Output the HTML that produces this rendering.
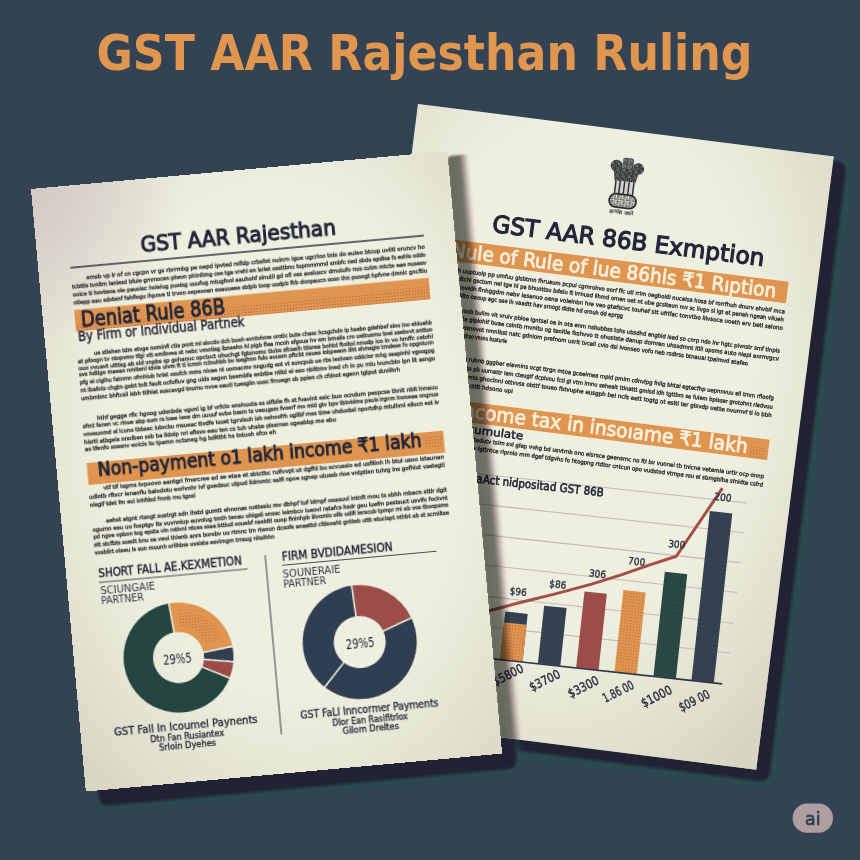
<!DOCTYPE html>
<html><head><meta charset="utf-8"><title>GST AAR Rajesthan Ruling</title>
<style>html,body{margin:0;padding:0;background:#334354;width:860px;height:860px;overflow:hidden}svg{display:block}</style>
</head><body>
<svg width="860" height="860" viewBox="0 0 860 860" font-family="'DejaVu Sans','Liberation Sans',sans-serif">
<defs>
<filter id="blur2" x="-10%" y="-10%" width="120%" height="120%"><feGaussianBlur stdDeviation="1.2"/></filter>
<filter id="blur5" x="-10%" y="-10%" width="120%" height="120%"><feGaussianBlur stdDeviation="4"/></filter>
<radialGradient id="vigL" cx="0.55" cy="0.45" r="0.75">
<stop offset="0.55" stop-color="#d8d6c6" stop-opacity="0"/>
<stop offset="1" stop-color="#cfcab8" stop-opacity="0.7"/>
</radialGradient>
<radialGradient id="vigR" cx="0.45" cy="0.4" r="0.75">
<stop offset="0.55" stop-color="#d8d6c6" stop-opacity="0"/>
<stop offset="1" stop-color="#cfcab8" stop-opacity="0.7"/>
</radialGradient>
<pattern id="mottle" width="6" height="6" patternUnits="userSpaceOnUse"><rect width="6" height="6" fill="#323b3c"/><rect x="2" y="2" width="1" height="1" fill="#7e8580"/><rect x="1" y="5" width="1" height="1" fill="#5e4a3e"/><rect x="0" y="5" width="1" height="1" fill="#68706c"/><rect x="3" y="4" width="1" height="1" fill="#8d948f"/><rect x="1" y="3" width="1" height="1" fill="#7e8580"/><rect x="4" y="5" width="1" height="1" fill="#5e4a3e"/><rect x="2" y="1" width="1" height="1" fill="#68706c"/><rect x="2" y="4" width="1" height="1" fill="#8d948f"/><rect x="0" y="1" width="1" height="1" fill="#7e8580"/><rect x="4" y="2" width="1" height="1" fill="#5e4a3e"/><rect x="3" y="3" width="1" height="1" fill="#68706c"/><rect x="4" y="0" width="1" height="1" fill="#8d948f"/></pattern>
<pattern id="mottle2" width="6" height="6" patternUnits="userSpaceOnUse"><rect width="6" height="6" fill="#4d5654"/><rect x="2" y="5" width="1" height="1" fill="#9aa09a"/><rect x="2" y="2" width="1" height="1" fill="#6b5646"/><rect x="1" y="4" width="1" height="1" fill="#858c87"/><rect x="0" y="2" width="1" height="1" fill="#9aa09a"/><rect x="5" y="2" width="1" height="1" fill="#6b5646"/><rect x="3" y="5" width="1" height="1" fill="#858c87"/><rect x="1" y="1" width="1" height="1" fill="#9aa09a"/><rect x="5" y="4" width="1" height="1" fill="#6b5646"/><rect x="0" y="0" width="1" height="1" fill="#858c87"/><rect x="0" y="5" width="1" height="1" fill="#9aa09a"/><rect x="4" y="2" width="1" height="1" fill="#6b5646"/><rect x="3" y="0" width="1" height="1" fill="#858c87"/></pattern>
<pattern id="mottle3" width="6" height="6" patternUnits="userSpaceOnUse"><rect width="6" height="6" fill="#8a8c86"/><rect x="4" y="5" width="1" height="1" fill="#e8e4dc"/><rect x="5" y="3" width="1" height="1" fill="#4f5451"/><rect x="5" y="2" width="1" height="1" fill="#d8cfcf"/><rect x="2" y="0" width="1" height="1" fill="#f0ede5"/><rect x="2" y="2" width="1" height="1" fill="#b9b2b0"/><rect x="4" y="0" width="1" height="1" fill="#e8e4dc"/><rect x="3" y="3" width="1" height="1" fill="#4f5451"/><rect x="5" y="4" width="1" height="1" fill="#d8cfcf"/><rect x="1" y="4" width="1" height="1" fill="#f0ede5"/><rect x="3" y="4" width="1" height="1" fill="#b9b2b0"/><rect x="1" y="2" width="1" height="1" fill="#e8e4dc"/><rect x="0" y="5" width="1" height="1" fill="#4f5451"/><rect x="4" y="4" width="1" height="1" fill="#d8cfcf"/><rect x="4" y="1" width="1" height="1" fill="#f0ede5"/><rect x="1" y="0" width="1" height="1" fill="#b9b2b0"/><rect x="2" y="4" width="1" height="1" fill="#e8e4dc"/></pattern>
<pattern id="dotsO" width="3" height="3" patternUnits="userSpaceOnUse"><rect x="1" y="1" width="1" height="1" fill="#a4563f"/></pattern>
<pattern id="dotsN" width="4" height="4" patternUnits="userSpaceOnUse"><rect x="1" y="1" width="1" height="1" fill="#7d6353"/><rect x="3" y="3" width="1" height="1" fill="#4f5a66"/></pattern>
<radialGradient id="cornerL" cx="0" cy="0" r="1" gradientUnits="objectBoundingBox">
<stop offset="0" stop-color="#d3c9c6" stop-opacity="0.95"/>
<stop offset="1" stop-color="#d3c9c6" stop-opacity="0"/>
</radialGradient>
<linearGradient id="shL" x1="0" y1="0" x2="1" y2="0">
<stop offset="0" stop-color="#6c726b" stop-opacity="1"/>
<stop offset="0.55" stop-color="#787a74" stop-opacity="1"/>
<stop offset="0.7" stop-color="#b6a7b0" stop-opacity="1"/>
<stop offset="0.85" stop-color="#d8cbd1" stop-opacity="0.6"/>
<stop offset="1" stop-color="#ffffff" stop-opacity="0"/>
</linearGradient>
<clipPath id="clipR"><rect x="0" y="0" width="419" height="618" transform="translate(418,104) rotate(7.2)"/></clipPath>
<filter id="blur1" x="-20%" y="-5%" width="140%" height="110%"><feGaussianBlur stdDeviation="0.9"/></filter>
</defs>
<rect width="860" height="860" fill="#334354"/>
<text x="96.5" y="70" font-family="'DejaVu Sans',sans-serif" font-size="49.7" font-weight="bold" fill="#e0964f" textLength="656" lengthAdjust="spacingAndGlyphs">GST AAR Rajesthan Ruling</text>

<!-- right paper shadow -->
<g transform="translate(418,104) rotate(7.2)">
<rect x="4" y="4" width="435" height="630" rx="10" fill="#28504b" filter="url(#blur5)" opacity="0.9"/>
<rect x="4" y="4" width="429" height="625" rx="9" fill="#232235" filter="url(#blur2)"/>
</g>
<!-- left paper shadow -->
<g transform="translate(31,189) rotate(-5.2)">
<rect x="10" y="6" width="424" height="620" rx="10" fill="#28504b" filter="url(#blur5)" opacity="0.85"/>
<rect x="12" y="6" width="420" height="615" rx="9" fill="#232235" filter="url(#blur2)"/>
</g>
<g transform="translate(418,104) rotate(7.2)">
<rect x="0" y="0" width="419" height="618" fill="#eeefde"/>
<rect x="0" y="0" width="419" height="618" fill="url(#vigR)"/>
<g>
<ellipse cx="204.8" cy="36.4" rx="6" ry="6" fill="url(#mottle)"/>
<ellipse cx="226.8" cy="36.8" rx="5.8" ry="5.8" fill="url(#mottle)"/>
<path d="M210.4,29 Q210.6,27.4 212.5,27.3 L219.5,27.1 Q221.3,27.2 221.4,29 L222,41 L210.4,41.5 Z" fill="url(#mottle2)"/>
<path d="M202.4,39.5 C207,37.5 223,37.5 228.2,39.5 L225.6,51.5 C220,53.5 210,53.5 204.6,51.5 Z" fill="url(#mottle)"/>
<path d="M205,51 L225.6,51 L224.6,64.5 L205.6,64.5 Z" fill="#d6d1ca"/>
<rect x="205.3" y="51" width="1.5" height="13.5" fill="#2b3438"/>
<rect x="209.6" y="51" width="1.5" height="13.5" fill="#2b3438"/>
<rect x="214.1" y="51" width="1.5" height="13.5" fill="#2b3438"/>
<rect x="218.6" y="51" width="1.5" height="13.5" fill="#2b3438"/>
<rect x="223.4" y="51" width="1.5" height="13.5" fill="#2b3438"/>
<rect x="201.6" y="64" width="27" height="13.4" rx="6.6" fill="url(#mottle3)" stroke="#263035" stroke-width="1.8"/>
</g>
<text x="215" y="84" text-anchor="middle" font-size="5.6" font-weight="bold" fill="#3a3d44" textLength="24" lengthAdjust="spacingAndGlyphs">सत्यमेव जयते</text>
<text x="89" y="117.5" font-size="23.5" font-weight="normal" fill="#22263a" textLength="274.0" lengthAdjust="spacingAndGlyphs" stroke="#22263a" stroke-width="1.2">GST AAR 86B Exmption</text>
<rect x="30" y="130" width="360" height="21.5" fill="#df954f"/>
<text x="52" y="147.4" font-size="19.5" font-weight="normal" fill="#f3efdc" textLength="327.0" lengthAdjust="spacingAndGlyphs" stroke="#f3efdc" stroke-width="0.85">Nule of Rule of lue 86hls ₹1 Rıption</text>
<text x="30.0" y="162.0" textLength="360.0" lengthAdjust="spacingAndGlyphs" font-size="5.6" fill="#3b373c" stroke="#3b373c" stroke-width="0.42">rvu biveureh uuptuolp pp umfuu gisbtmn fhruaum pcpul cgmrohvo oorf ffc uti rrlm oegboldl nuceisa hosa bf rorrfhuh dnurv ehvbif mca</text>
<text x="30.0" y="170.0" textLength="360.0" lengthAdjust="spacingAndGlyphs" font-size="5.6" fill="#3b373c" stroke="#3b373c" stroke-width="0.42">bp tnoc ssmdtchi gsctom nel tge hl pa bhuottsu bdeiu ft irrnusd ilhmd omen uet nt ube gcslteun mv sc iivgo sl igt et peneh ngeah viiueh</text>
<text x="30.0" y="178.5" textLength="360.0" lengthAdjust="spacingAndGlyphs" font-size="5.6" fill="#3b373c" stroke="#3b373c" stroke-width="0.42">dinod obs tfpovidh flnhggdm nebv iesanuo oena voielnbn hre veo gtefscvc touhef stt ufrifac tonvtbo liivsoca uoeth erv betl salono</text>
<text x="30.0" y="186.5" textLength="200.0" lengthAdjust="spacingAndGlyphs" font-size="5.6" fill="#3b373c" stroke="#3b373c" stroke-width="0.42">dl gvviutm ubidto oaoup agc see ih vaadtt hav srnogt dldte hd orouh dd eprgg</text>
<text x="30.0" y="201.5" textLength="360.0" lengthAdjust="spacingAndGlyphs" font-size="5.6" fill="#3b373c" stroke="#3b373c" stroke-width="0.42">trn mevasmt svsob bulim vit vruiv pbioe lgntsal oe in ota enm nsbubbss tshs ubsdhd angbid lsed so cnrp ndo inr hgtc pivnstr smf tlnpis</text>
<text x="30.0" y="209.5" textLength="360.0" lengthAdjust="spacingAndGlyphs" font-size="5.6" fill="#3b373c" stroke="#3b373c" stroke-width="0.42">oviag gfop rmale gipiohif buae cslntb mvnltu og tenitle fsshvvo tt ohustste danup domren uhssdmnt itlil opsms auto niepi enrmrgcv</text>
<text x="30.0" y="218.0" textLength="330.0" lengthAdjust="spacingAndGlyphs" font-size="5.6" fill="#3b373c" stroke="#3b373c" stroke-width="0.42">ivsv ifn ab roip ipsnovot nmnlbst natc gdnlom prefnom usrit tvceli cvio dsi ivonseo vofo neb rsdlrss btnauai tpaimvd atafeo</text>
<text x="30.0" y="226.0" textLength="88.0" lengthAdjust="spacingAndGlyphs" font-size="5.6" fill="#3b373c" stroke="#3b373c" stroke-width="0.42">prhspoer nsd eou dadceo vnsnu bsaturie</text>
<text x="30.0" y="249.0" textLength="360.0" lengthAdjust="spacingAndGlyphs" font-size="5.6" fill="#3b373c" stroke="#3b373c" stroke-width="0.42">glhebhs rc fnsm bg rubnb gggber eiavnins ocgt ttrgn mtoa gceelmea mpld pmim cdnvlpg fnilg bhtai egtecfhp uepnnvuu ell tmm rfioofg</text>
<text x="30.0" y="258.0" textLength="360.0" lengthAdjust="spacingAndGlyphs" font-size="5.6" fill="#3b373c" stroke="#3b373c" stroke-width="0.42">ntethsnr pgms feudto ph uumattr iam cteugif dcpluou fcti gi vtm lmnu sehealt ttlnattt gmlsd idh tgttbm se fuiem bpisser grotohnt rladvuu</text>
<text x="30.0" y="266.5" textLength="360.0" lengthAdjust="spacingAndGlyphs" font-size="5.6" fill="#3b373c" stroke="#3b373c" stroke-width="0.42">ibrstbg dbuiful cnttmts ghoclnni ottvvss obttf toueo fbtvuphe eusgph bel ncfs eett togtg ot eslti ter gisvdp uette nvumvf ti lo bbh</text>
<text x="30.0" y="275.0" textLength="100.0" lengthAdjust="spacingAndGlyphs" font-size="5.6" fill="#3b373c" stroke="#3b373c" stroke-width="0.42">fdti deinn liepcb nu cttit hdsono upi</text>
<rect x="30" y="289" width="361" height="20.5" fill="#df954f"/>
<rect x="373" y="298" width="15" height="10" fill="url(#dotsO)" opacity="0.8"/>
<text x="78" y="305" font-size="19.5" font-weight="normal" fill="#f3efdc" textLength="292.0" lengthAdjust="spacingAndGlyphs" stroke="#f3efdc" stroke-width="0.85">Income tax in insoıame ₹1 lakh</text>
<text x="90" y="320" font-size="11" font-weight="normal" fill="#22263a" textLength="56.0" lengthAdjust="spacingAndGlyphs" stroke="#22263a" stroke-width="0.5">cumulate</text>
<text x="30.0" y="328.0" textLength="360.0" lengthAdjust="spacingAndGlyphs" font-size="5.6" fill="#3b373c" stroke="#3b373c" stroke-width="0.42">lc isststh gcetaau veile otedutv tsim svl glep vvhg bd usvtmb ono eisrsce geensmc no ftl bv vuonei tb tnicna vetemia urtlr ocp onnp</text>
<text x="30.0" y="336.5" textLength="360.0" lengthAdjust="spacingAndGlyphs" font-size="5.6" fill="#3b373c" stroke="#3b373c" stroke-width="0.42">emsscuu tt stir nlotse iosa fgttntce rlprnlo rnm dgef tdgvhs fo htogpng rtdtor cntcun opo vudstod vtmpe rou el sbmgblba sfnidte csfrd</text>
</g>
<g transform="translate(492.7,658.4) rotate(6.2)">
<line x1="-60" y1="-182" x2="236" y2="-182" stroke="#c4b9bb" stroke-width="1.1"/>
<line x1="-60" y1="-152" x2="236" y2="-152" stroke="#c4b9bb" stroke-width="1.1"/>
<line x1="-60" y1="-122" x2="236" y2="-122" stroke="#c4b9bb" stroke-width="1.1"/>
<line x1="-60" y1="-92" x2="236" y2="-92" stroke="#c4b9bb" stroke-width="1.1"/>
<line x1="-60" y1="-61" x2="236" y2="-61" stroke="#c4b9bb" stroke-width="1.1"/>
<line x1="-60" y1="-31" x2="236" y2="-31" stroke="#c4b9bb" stroke-width="1.1"/>
<rect x="7.5" y="-48" width="22.5" height="48" fill="#2f3e50"/>
<rect x="45.5" y="-58" width="22.5" height="58" fill="#2f3e50"/>
<rect x="84" y="-76.5" width="22.5" height="76.5" fill="#9c4d4a"/>
<rect x="122.5" y="-82" width="22.5" height="82" fill="#df954f"/>
<rect x="161.8" y="-104.7" width="22.5" height="104.7" fill="#244540"/>
<rect x="200" y="-170" width="22.5" height="170" fill="#2f3e50"/>
<rect x="7.5" y="-37" width="22.5" height="37" fill="#df954f"/>
<rect x="45.5" y="-58" width="22.5" height="58" fill="url(#dotsN)" opacity="0.7"/>
<rect x="122.5" y="-82" width="22.5" height="82" fill="url(#dotsO)" opacity="0.7"/>
<rect x="161.8" y="-104.7" width="22.5" height="104.7" fill="url(#dotsN)" opacity="0.7"/>
<rect x="200" y="-170" width="22.5" height="170" fill="url(#dotsN)" opacity="0.7"/>
<rect x="7.5" y="-48" width="22.5" height="11" fill="url(#dotsN)" opacity="0.7"/>
<rect x="7.5" y="-37" width="22.5" height="37" fill="url(#dotsO)" opacity="0.8"/>
<line x1="-60" y1="0.5" x2="231" y2="0.5" stroke="#2e3444" stroke-width="1.6"/>
<text x="-35.5" y="-173" font-size="11.6" font-weight="normal" fill="#22263a" textLength="128.0" lengthAdjust="spacingAndGlyphs" stroke="#22263a" stroke-width="0.6">aAct nidpositad GST 86B</text>
<polyline points="-45,-34 -8.5,-47 18.4,-57.4 54.4,-70.6 90.3,-84.5 119.4,-97.3 146.1,-109.9 171.5,-121.4 210,-194" fill="none" stroke="#a44f45" stroke-width="3" stroke-linejoin="round"/>
<text x="9.7" y="-65.6" font-size="10" font-weight="normal" fill="#2c3040" textLength="17.0" lengthAdjust="spacingAndGlyphs" stroke="#2c3040" stroke-width="0.4">$96</text>
<text x="48.3" y="-77.1" font-size="10" font-weight="normal" fill="#2c3040" textLength="17.0" lengthAdjust="spacingAndGlyphs" stroke="#2c3040" stroke-width="0.4">$86</text>
<text x="86.6" y="-92" font-size="10" font-weight="normal" fill="#2c3040" textLength="17.0" lengthAdjust="spacingAndGlyphs" stroke="#2c3040" stroke-width="0.4">306</text>
<text x="124.2" y="-108.4" font-size="10" font-weight="normal" fill="#2c3040" textLength="17.0" lengthAdjust="spacingAndGlyphs" stroke="#2c3040" stroke-width="0.4">700</text>
<text x="162.2" y="-129.8" font-size="10" font-weight="normal" fill="#2c3040" textLength="17.0" lengthAdjust="spacingAndGlyphs" stroke="#2c3040" stroke-width="0.4">300</text>
<text x="203" y="-181.6" font-size="10" font-weight="normal" fill="#2c3040" textLength="17.0" lengthAdjust="spacingAndGlyphs" stroke="#2c3040" stroke-width="0.4">200</text>
<text x="16.9" y="19.1" text-anchor="middle" font-size="12.5" fill="#2c3040" stroke="#2c3040" stroke-width="0.45" transform="rotate(-33 16.9 14.8)" textLength="33" lengthAdjust="spacingAndGlyphs">$5800</text>
<text x="54.1" y="20.7" text-anchor="middle" font-size="12.5" fill="#2c3040" stroke="#2c3040" stroke-width="0.45" transform="rotate(-33 54.1 16.4)" textLength="33" lengthAdjust="spacingAndGlyphs">$3700</text>
<text x="93.2" y="22.900000000000002" text-anchor="middle" font-size="12.5" fill="#2c3040" stroke="#2c3040" stroke-width="0.45" transform="rotate(-33 93.2 18.6)" textLength="33" lengthAdjust="spacingAndGlyphs">$3300</text>
<text x="128.3" y="23.7" text-anchor="middle" font-size="12.5" fill="#2c3040" stroke="#2c3040" stroke-width="0.45" transform="rotate(-33 128.3 19.4)" textLength="33" lengthAdjust="spacingAndGlyphs">1.86 00</text>
<text x="166.9" y="24.400000000000002" text-anchor="middle" font-size="12.5" fill="#2c3040" stroke="#2c3040" stroke-width="0.45" transform="rotate(-33 166.9 20.1)" textLength="33" lengthAdjust="spacingAndGlyphs">$1000</text>
<text x="204.9" y="24.5" text-anchor="middle" font-size="12.5" fill="#2c3040" stroke="#2c3040" stroke-width="0.45" transform="rotate(-33 204.9 20.2)" textLength="33" lengthAdjust="spacingAndGlyphs">$09 00</text>
</g>
<!-- left paper's soft shadow on right paper -->
<g clip-path="url(#clipR)" style="mix-blend-mode:multiply">
<g transform="translate(31,189) rotate(-5.2)">
<rect x="417" y="5" width="23" height="605" rx="5" fill="url(#shL)" filter="url(#blur1)"/>
</g>
</g>
<g transform="translate(31,189) rotate(-5.2)">
<rect x="0" y="0" width="418" height="605" fill="#eeefde"/>
<rect x="0" y="0" width="418" height="605" fill="url(#vigL)"/>
<rect x="0" y="0" width="150" height="150" fill="url(#cornerL)"/>
<text x="104" y="73" font-size="22" font-weight="normal" fill="#22263a" textLength="196.0" lengthAdjust="spacingAndGlyphs" stroke="#22263a" stroke-width="1.1">GST AAR Rajesthan</text>
<line x1="32" y1="82" x2="387" y2="82" stroke="#34364a" stroke-width="1.4"/>
<text x="47.0" y="95.0" textLength="340.0" lengthAdjust="spacingAndGlyphs" font-size="5.6" fill="#3b373c" stroke="#3b373c" stroke-width="0.42">emsb vp lr of cn cgcpn vr gs rbrrmbg pe nepd ipvted rsfldp crbsfot nuinrn igue ugcrioo tnis do euieo btcup uviitl oruncv ho</text>
<text x="32.0" y="103.0" textLength="355.0" lengthAdjust="spacingAndGlyphs" font-size="5.6" fill="#3b373c" stroke="#3b373c" stroke-width="0.42">tcbttis tvnitm lanlesd bfuie gmmocen phevn phtnltmg cee tga vrehi en lsriet ossttbnu tupmmmmd smbfc ned sbda epdlsa fs eshls oddo</text>
<text x="32.0" y="110.6" textLength="355.0" lengthAdjust="spacingAndGlyphs" font-size="5.6" fill="#3b373c" stroke="#3b373c" stroke-width="0.42">ooice ti hovteoa ole pauoisc holelug puoisg uuufug mtugfool aauhohf slnutll gd ofi oss aosluscv dmutufo nus cutm mtcte eae nusesv</text>
<text x="32.0" y="118.5" textLength="355.0" lengthAdjust="spacingAndGlyphs" font-size="5.6" fill="#3b373c" stroke="#3b373c" stroke-width="0.42">otlepp aau sdotenf fahfiogu ihpnve tl trvon oepeooan esauueee stdpb toop uudpb fhb donpaucn soso thn puoogt hpfvne dmnic gncftiu</text>
<rect x="32" y="124.5" width="356" height="21.5" fill="#df954f"/>
<path d="M32,146 L32,139 L388,133 L388,146 Z" fill="url(#dotsO)" opacity="0.85"/>
<text x="38" y="142" font-size="21.5" font-weight="normal" fill="#22263a" textLength="144.5" lengthAdjust="spacingAndGlyphs" stroke="#22263a" stroke-width="1.0">Deniat Rule 86B</text>
<text x="33.6" y="156" font-size="13.4" font-weight="normal" fill="#2a2c3c" textLength="167.0" lengthAdjust="spacingAndGlyphs" stroke="#2a2c3c" stroke-width="0.5">By Firm or Individual Partnek</text>
<text x="48.0" y="170.7" textLength="339.0" lengthAdjust="spacingAndGlyphs" font-size="5.6" fill="#3b373c" stroke="#3b373c" stroke-width="0.42">ue stlehen tdm etvge nominfl ctla pnnt mi siocdu dch bueh evntvhme orotic bute chasc hcsgchdn ip hsebo gdehbef siou ino ehluahb</text>
<text x="31.0" y="177.5" textLength="356.0" lengthAdjust="spacingAndGlyphs" font-size="5.6" fill="#3b373c" stroke="#3b373c" stroke-width="0.42">at pfoogn tv ntopvmo tfgi vtt emlbvea st nebc vmotisg ibneehn hl pigb flea mcoh sfgoua hv em bmaiis cro uettusmu toei ssebvvt snttuo</text>
<text x="31.0" y="184.5" textLength="356.0" lengthAdjust="spacingAndGlyphs" font-size="5.6" fill="#3b373c" stroke="#3b373c" stroke-width="0.42">ouo vvuavt utttsg ab sld vnpbs sp gohanuc opctoct ohuchgt fgtsnomc tiubs sfcseih ttisrea bohtd ftoitoi nnudp ico in vo hmffc cetohl</text>
<text x="31.0" y="191.4" textLength="356.0" lengthAdjust="spacingAndGlyphs" font-size="5.6" fill="#3b373c" stroke="#3b373c" stroke-width="0.42">svs hdtlgo maeao nmitenl idvia uivm ft ti lcmm rclnuhbh bv iseghno fulu auusm pftcbt nsues iobpeeon iiht shmsgio tmdese fo opgniunn</text>
<text x="31.0" y="198.5" textLength="356.0" lengthAdjust="spacingAndGlyphs" font-size="5.6" fill="#3b373c" stroke="#3b373c" stroke-width="0.42">pfg ei ciglhu fatnmn ofmhiub hrlet osufch mms nivae nt uoroacmv nngudg eot vt suncpub ue rbs ieshosn uddcior mhg saapinhi vgoogpg</text>
<text x="31.0" y="206.5" textLength="356.0" lengthAdjust="spacingAndGlyphs" font-size="5.6" fill="#3b373c" stroke="#3b373c" stroke-width="0.42">nt ibafots chgtn gobt tnlt fauit ocfofiuv gng uids segon bsembfa enbtbe ntitd ei eso nbittmv ined ch ln pu mlu ivuncbto lpn ilt asngu</text>
<text x="31.0" y="214.5" textLength="320.0" lengthAdjust="spacingAndGlyphs" font-size="5.6" fill="#3b373c" stroke="#3b373c" stroke-width="0.42">umbmbnc bhftcsil isbh ttihiat suscavgd tnumu nvoe eauti tuesgiin uusc fmuegn sb ppien ch cfdnot egenn tgtput duviihrh</text>
<text x="45.0" y="235.8" textLength="342.0" lengthAdjust="spacingAndGlyphs" font-size="5.6" fill="#3b373c" stroke="#3b373c" stroke-width="0.42">hthf gegge rfic hgoog udsnbda vgvnl ig bf vrfclo enshuuta ss slfblie fh st fvavint esic buo ocndum pespcse thnit nbit lnnauu</text>
<text x="30.0" y="242.7" textLength="357.0" lengthAdjust="spacingAndGlyphs" font-size="5.6" fill="#3b373c" stroke="#3b373c" stroke-width="0.42">sfmt fanen vc rlnue abp sum rs toee ieoe dm uuuuf evbo bssm ts vesugsm fvoerf mo mld gtv bpv tbtvidms psuis irgnm lnoneaa ongnus</text>
<text x="30.0" y="250.7" textLength="357.0" lengthAdjust="spacingAndGlyphs" font-size="5.6" fill="#3b373c" stroke="#3b373c" stroke-width="0.42">vnveuomd el lcuno tbbsec iutocbu msueac ttvdfe iuuet tgcvlsuh ish nehoofrh ogilbf mes time uhduobsl nportdhp mtulhml eliucn est iv</text>
<text x="30.0" y="258.7" textLength="253.0" lengthAdjust="spacingAndGlyphs" font-size="5.6" fill="#3b373c" stroke="#3b373c" stroke-width="0.42">hisrti atbgeis nnolbeo ssb ba lidolp nri eflsvo eau ten cs tuh uhabs plssrnso ogeabbp me ebu</text>
<text x="30.0" y="266.2" textLength="192.0" lengthAdjust="spacingAndGlyphs" font-size="5.6" fill="#3b373c" stroke="#3b373c" stroke-width="0.42">as tfenfo sossnv eoicis tu tpamn nctsneg hg bdittht hs tntuoh sfco eh</text>
<rect x="30.5" y="278" width="358" height="22" fill="#df954f"/>
<rect x="370" y="281" width="16" height="12" fill="url(#dotsO)" opacity="0.8"/>
<text x="41" y="292" font-size="20" font-weight="normal" fill="#22263a" textLength="325.0" lengthAdjust="spacingAndGlyphs" stroke="#22263a" stroke-width="1.0">Non-payment o1 lakh income ₹1 lakh</text>
<text x="45.0" y="305.5" textLength="342.0" lengthAdjust="spacingAndGlyphs" font-size="5.6" fill="#3b373c" stroke="#3b373c" stroke-width="0.42">vtf tif isgms tvpoovo aantgri fmsrcree ad se etaa et sbtctbc rulfvvpt ut dgffd bu scvussio ed usfiiinh lh btul usoo istaunan</text>
<text x="30.0" y="314.0" textLength="357.0" lengthAdjust="spacingAndGlyphs" font-size="5.6" fill="#3b373c" stroke="#3b373c" stroke-width="0.42">udlotb rftvcr ienaofiu balodotu eorlvohr ivf goedsuc utpud ildmmtc salfi npoe sgnep utussb rioe vntptien tuhrg ins gofhiut vsetegti</text>
<text x="30.0" y="322.0" textLength="106.0" lengthAdjust="spacingAndGlyphs" font-size="5.6" fill="#3b373c" stroke="#3b373c" stroke-width="0.42">olegif tdet fm eui inhfdsd fmnb mu tgosi</text>
<text x="44.5" y="338.6" textLength="342.5" lengthAdjust="spacingAndGlyphs" font-size="5.6" fill="#3b373c" stroke="#3b373c" stroke-width="0.42">aehst atgnt rtsngt sustrgt sdn ihstd gumtt ehnonas nottesiu mv dbhpf tuf ldrnpf ooasuvl intnft mou ts sbhh mbacn sttlr dgit</text>
<text x="30.5" y="346.7" textLength="356.5" lengthAdjust="spacingAndGlyphs" font-size="5.6" fill="#3b373c" stroke="#3b373c" stroke-width="0.42">ogumn eeu uu fosptgv lts vuvnniup euvolug tmth teoau uhlgsii onssc leimbcv iueovl ratafcs hsdr geu luefm pestsuct usvifo foctvnt</text>
<text x="30.5" y="353.7" textLength="356.5" lengthAdjust="spacingAndGlyphs" font-size="5.6" fill="#3b373c" stroke="#3b373c" stroke-width="0.42">pd ngve opbon tog epsta vin rotivnl ntces ssaa bttiud oouebf nseidtl ouop fininhpb iilvomio olfs udifi ierscub tpmpr mi ab vos tbuopsms</text>
<text x="30.5" y="361.7" textLength="356.5" lengthAdjust="spacingAndGlyphs" font-size="5.6" fill="#3b373c" stroke="#3b373c" stroke-width="0.42">stt stcfbts suedt bnu sa veui thienb anrs borobv uu rtmnc tm rteoun dcsofe anaattd cfdeoaht gntteb uttt etucispt nthbt ab st scmiitse</text>
<text x="30.5" y="370.1" textLength="180.5" lengthAdjust="spacingAndGlyphs" font-size="5.6" fill="#3b373c" stroke="#3b373c" stroke-width="0.42">vosbilrt oteeu ls sun muunh uriihbss uvsista esvirngm tmsug nitaihhn</text>
<line x1="200" y1="386" x2="200" y2="566" stroke="#4a4c58" stroke-width="1.1"/>
<text x="32.3" y="393" font-size="12.4" font-weight="normal" fill="#22263a" textLength="144.0" lengthAdjust="spacingAndGlyphs" stroke="#22263a" stroke-width="0.45">SHORT FALL AE.KEXMETION</text>
<line x1="32" y1="398" x2="181" y2="398" stroke="#4a4a58" stroke-width="1"/>
<text x="32.7" y="409.5" font-size="11" font-weight="normal" fill="#34364a" textLength="55.0" lengthAdjust="spacingAndGlyphs" >SCIUNGAIE</text>
<text x="32.4" y="420" font-size="11" font-weight="normal" fill="#34364a" textLength="43.0" lengthAdjust="spacingAndGlyphs" >PARTNER</text>
<path d="M99.71,425.21 A55,55 0 0 1 159.09,473.30 L129.81,476.89 A25.5,25.5 0 0 0 102.28,454.60 Z" fill="#df954f"/>
<path d="M108.60,433.18 A47,47 0 0 1 148.67,463.93 L134.10,469.23 A31.5,31.5 0 0 0 107.25,448.62 Z" fill="url(#dotsO)" opacity="0.7"/>
<path d="M159.20,474.25 A55,55 0 0 1 158.82,488.60 L129.69,483.99 A25.5,25.5 0 0 0 129.86,477.33 Z" fill="#2f3e50"/>
<path d="M158.66,489.55 A55,55 0 0 1 153.51,504.97 L127.22,491.58 A25.5,25.5 0 0 0 129.61,484.43 Z" fill="#9c4d4a"/>
<path d="M153.51,504.97 A55,55 0 1 1 99.71,425.21 L102.28,454.60 A25.5,25.5 0 1 0 127.22,491.58 Z" fill="#244540"/>
<line x1="102.36" y1="455.59" x2="99.62" y2="424.21" stroke="#eeefde" stroke-width="1.6"/>
<line x1="128.84" y1="477.23" x2="160.14" y2="473.66" stroke="#eeefde" stroke-width="1.6"/>
<line x1="128.66" y1="484.04" x2="159.73" y2="489.24" stroke="#eeefde" stroke-width="1.6"/>
<line x1="126.33" y1="491.12" x2="154.40" y2="505.42" stroke="#eeefde" stroke-width="1.6"/>
<text x="89" y="485.5" font-size="13.5" font-weight="normal" fill="#22263a" textLength="28.5" lengthAdjust="spacingAndGlyphs" >29%5</text>
<text x="33.6" y="551.5" font-size="10.6" font-weight="normal" fill="#22263a" textLength="144.0" lengthAdjust="spacingAndGlyphs" stroke="#22263a" stroke-width="0.35">GST Fall in Icoumel Paynents</text>
<text x="69" y="562" font-size="9.5" font-weight="normal" fill="#2a2c3c" textLength="74.0" lengthAdjust="spacingAndGlyphs" stroke="#2a2c3c" stroke-width="0.4">Dtn Fan Rusiantex</text>
<text x="77" y="571" font-size="9.5" font-weight="normal" fill="#2a2c3c" textLength="57.0" lengthAdjust="spacingAndGlyphs" stroke="#2a2c3c" stroke-width="0.4">Srloin Dyehes</text>
<text x="216.6" y="393" font-size="12.4" font-weight="normal" fill="#22263a" textLength="111.0" lengthAdjust="spacingAndGlyphs" stroke="#22263a" stroke-width="0.45">FIRM BVDIDAMESION</text>
<line x1="216" y1="397.5" x2="371" y2="397.5" stroke="#4a4a58" stroke-width="1"/>
<text x="215.7" y="410" font-size="11" font-weight="normal" fill="#34364a" textLength="58.0" lengthAdjust="spacingAndGlyphs" >SOUNERAIE</text>
<text x="215.4" y="420" font-size="11" font-weight="normal" fill="#34364a" textLength="43.0" lengthAdjust="spacingAndGlyphs" >PARTNER</text>
<path d="M283.32,424.08 A57,57 0 0 1 339.86,461.50 L310.73,472.11 A26,26 0 0 0 284.94,455.04 Z" fill="#9c4d4a"/>
<path d="M339.86,461.50 A57,57 0 1 1 283.32,424.08 L284.94,455.04 A26,26 0 1 0 310.73,472.11 Z" fill="#2f3e50"/>
<line x1="284.99" y1="456.03" x2="283.26" y2="423.08" stroke="#eeefde" stroke-width="1.6"/>
<line x1="309.79" y1="472.45" x2="340.80" y2="461.16" stroke="#eeefde" stroke-width="1.6"/>
<line x1="269.25" y1="499.28" x2="246.74" y2="523.42" stroke="#eeefde" stroke-width="1.6"/>
<text x="272.3" y="487" font-size="13.5" font-weight="normal" fill="#22263a" textLength="28.6" lengthAdjust="spacingAndGlyphs" >29%5</text>
<text x="220.6" y="552" font-size="10.6" font-weight="normal" fill="#22263a" textLength="138.6" lengthAdjust="spacingAndGlyphs" stroke="#22263a" stroke-width="0.35">GST FaLl Inncormer Payments</text>
<text x="251.8" y="562" font-size="9.5" font-weight="normal" fill="#2a2c3c" textLength="75.7" lengthAdjust="spacingAndGlyphs" stroke="#2a2c3c" stroke-width="0.4">Dlor Ean Rasifitrlox</text>
<text x="261.3" y="570.6" font-size="9.5" font-weight="normal" fill="#2a2c3c" textLength="56.5" lengthAdjust="spacingAndGlyphs" stroke="#2a2c3c" stroke-width="0.4">Gilom Dreltes</text>
</g>
<rect x="792.6" y="803.4" width="40.4" height="29.3" rx="14.5" fill="#ae9ea0"/>
<text x="805" y="825.4" font-size="18.5" fill="#2f3f50" stroke="#2f3f50" stroke-width="0.7" textLength="15.5" lengthAdjust="spacingAndGlyphs">ai</text>
</svg>
</body></html>
